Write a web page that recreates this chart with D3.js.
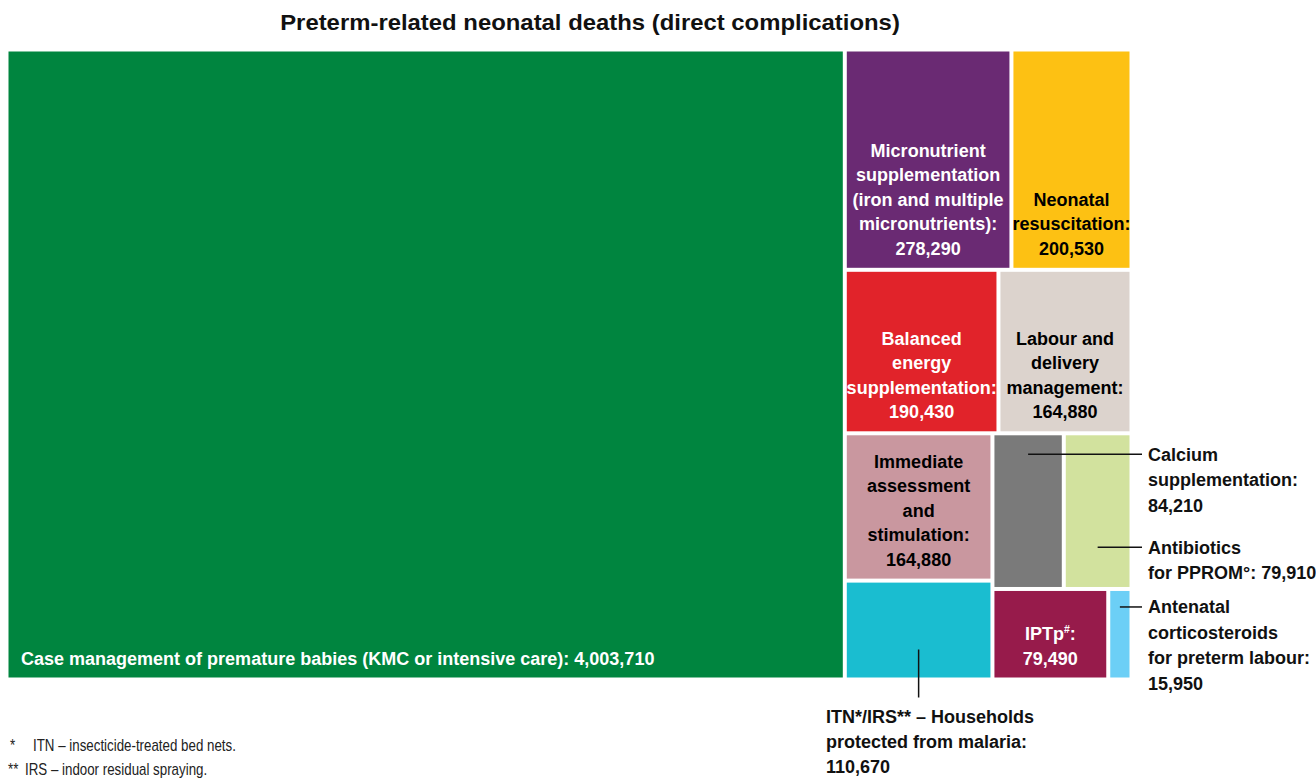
<!DOCTYPE html>
<html><head><meta charset="utf-8">
<script src="https://cdn.jsdelivr.net/npm/d3@7"></script>
<style>
body{margin:0;background:#fff;}
text{font-family:"Liberation Sans","Arial",sans-serif;}
</style></head>
<body><svg id="chart" width="1316" height="782"></svg>
<script>
// ---- data ----
const ids = ["root","case","rest","row1","micro","neo","row2","bal","lab","block","colA","imm","itn","colB","rowB1","cal","abx","rowB2","iptp","ant"];
const parents = [null,"root","root","rest","row1","row1","rest","row2","row2","rest","block","colA","colA","block","colB","rowB1","rowB1","colB","rowB2","rowB2"];
const leafIds = ["case","micro","neo","bal","lab","imm","itn","cal","abx","iptp","ant"];
const categories = [
  "Case management of premature babies (KMC or intensive care)",
  "Micronutrient supplementation (iron and multiple micronutrients)",
  "Neonatal resuscitation",
  "Balanced energy supplementation",
  "Labour and delivery management",
  "Immediate assessment and stimulation",
  "ITN*/IRS** – Households protected from malaria",
  "Calcium supplementation",
  "Antibiotics for PPROM°",
  "IPTp#",
  "Antenatal corticosteroids for preterm labour"
];
const values = [4003710, 278290, 200530, 190430, 164880, 164880, 110670, 84210, 79910, 79490, 15950];
const colors = ["#00853F","#6A2A73","#FDC113","#E1232A","#DCD3CD","#C9979F","#1ABDD0","#7A7A7A","#D2E29E","#971B4B","#6CCFF6"];
const textColors = ["#fff","#fff","#000","#fff","#000","#000","#000","#000","#000","#fff","#000"];
const labelLines = [
  ["Case management of premature babies (KMC or intensive care): 4,003,710"],
  ["Micronutrient","supplementation","(iron and multiple","micronutrients):","278,290"],
  ["Neonatal","resuscitation:","200,530"],
  ["Balanced","energy","supplementation:","190,430"],
  ["Labour and","delivery","management:","164,880"],
  ["Immediate","assessment","and","stimulation:","164,880"],
  ["ITN*/IRS** – Households","protected from malaria:","110,670"],
  ["Calcium","supplementation:","84,210"],
  ["Antibiotics","for PPROM°: 79,910"],
  ["IPTp#:","79,490"],
  ["Antenatal","corticosteroids","for preterm labour:","15,950"]
];
const labelModes = ["bottomleft","center","center","center","center","center","down","right","right","center","right"];
const title = "Preterm-related neonatal deaths (direct complications)";
const footnotes = [["*","ITN – insecticide-treated bed nets."],["**","IRS – indoor residual spraying."]];

// ---- layout ----
const svg = d3.select("#chart");
const area = {x: 8.5, y: 51.5, w: 1121, h: 626};
const valueById = new Map(leafIds.map((id,i)=>[id, values[i]]));
const idxById = new Map(leafIds.map((id,i)=>[id, i]));

const table = ids.map((id,i)=>({id, parent: parents[i]}));
const root = d3.stratify().id(d=>d.id).parentId(d=>d.parent)(table)
  .sum(d => valueById.get(d.id) || 0);

d3.treemap().tile(d3.treemapSliceDice).size([area.w, area.h]).paddingInner(4).round(false)(root);

const g = svg.append("g").attr("transform", `translate(${area.x},${area.y})`);

// measure helper to get condensed scale
function measure(str, size, weight){
  const t = svg.append("text").attr("font-size", size).attr("font-weight", weight).text(str);
  const w = t.node().getComputedTextLength(); t.remove(); return w;
}
const fs = 19, lh = 24.5;
const sx = 634 / measure(labelLines[0][0], fs, "bold");
const tsx = 620 / measure(title, 23, "bold");
const fsx = 203 / measure(footnotes[0][1], 16, "normal");

function addText(parent, x, y, str, o){
  const t = parent.append("text")
    .attr("transform", `translate(${x},${y}) scale(${o.sx ?? sx},1)`)
    .attr("font-size", o.size ?? fs).attr("font-weight", o.weight ?? "bold")
    .attr("fill", o.fill ?? "#111").attr("text-anchor", o.anchor ?? "start");
  if (str.startsWith("IPTp#")) {
    t.append("tspan").text("IPTp");
    t.append("tspan").attr("font-size", 11).attr("dy", -7).text("#");
    t.append("tspan").attr("dy", 7).text(":");
  } else t.text(str);
  return t;
}

addText(svg, 590, 30, title, {size: 23, sx: tsx, anchor: "middle"});

const leaves = root.leaves();
g.selectAll("rect").data(leaves).join("rect")
  .attr("x", d=>d.x0).attr("y", d=>d.y0)
  .attr("width", d=>d.x1-d.x0).attr("height", d=>d.y1-d.y0)
  .attr("fill", d=>colors[idxById.get(d.id)]);

leaves.forEach(d => {
  const i = idxById.get(d.id);
  const lines = labelLines[i], mode = labelModes[i];
  const cx = (d.x0+d.x1)/2;
  if (mode === "bottomleft") {
    addText(g, d.x0+12.5, d.y1-12.5, lines[0], {fill: textColors[i]});
  } else if (mode === "center") {
    const n = lines.length;
    lines.forEach((s,k)=> addText(g, cx, d.y1 - 13 - (n-1-k)*lh, s, {fill: textColors[i], anchor: "middle"}));
  } else if (mode === "right") {
    const offs = {cal: 19, abx: 112, ant: 16};
    const ly = d.y0 + offs[d.id];
    g.append("line").attr("x1", cx).attr("x2", 1142-area.x).attr("y1", ly).attr("y2", ly)
      .attr("stroke","#111").attr("stroke-width", 1.5);
    lines.forEach((s,k)=> addText(g, 1148-area.x, ly + 6.5 + k*25.5, s, {}));
  } else if (mode === "down") {
    g.append("line").attr("x1", cx).attr("x2", cx).attr("y1", d.y1-28).attr("y2", d.y1+20)
      .attr("stroke","#111").attr("stroke-width", 1.5);
    lines.forEach((s,k)=> addText(g, 826-area.x, d.y1 + 45 + k*25, s, {}));
  }
});

footnotes.forEach((f,k)=>{
  const y = 751 + k*24;
  addText(svg, k===0?10:8, y, f[0], {size: 16, weight: "normal", sx: fsx, fill: "#222"});
  addText(svg, k===0?33:25, y, f[1], {size: 16, weight: "normal", sx: fsx, fill: "#222"});
});
</script></body></html>
